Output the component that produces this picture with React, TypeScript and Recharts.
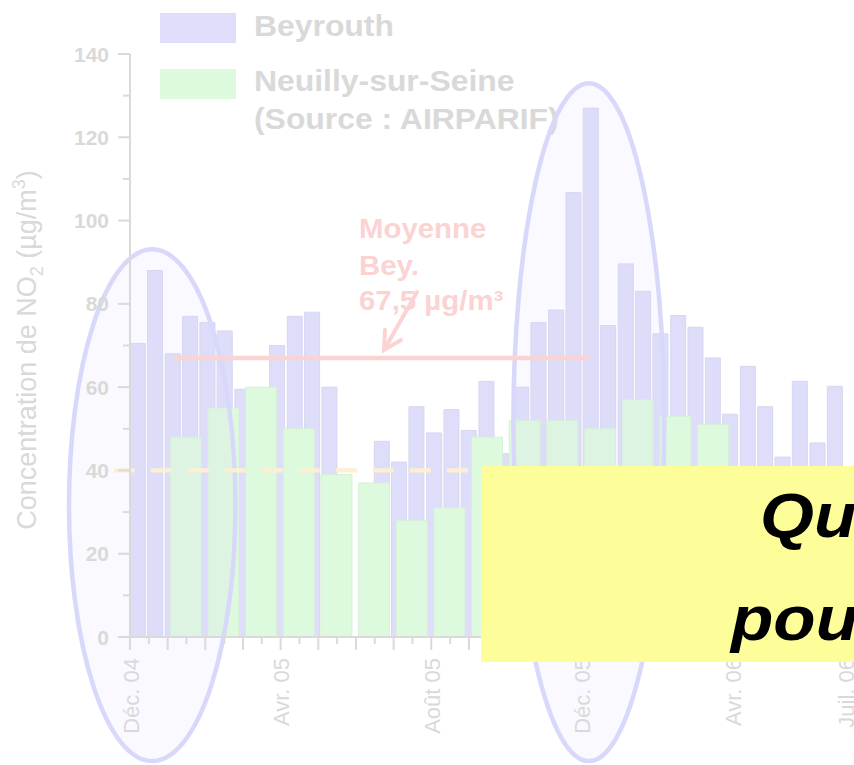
import React from 'react';
import { ComposedChart, Bar, XAxis, YAxis, ReferenceLine, ReferenceArea } from 'recharts';

// ---------- data ----------
// x position of each Beyrouth (bi-weekly) sample, in months since 1 Dec 2004
const beyrouthPos = [
  0.21, 0.67, 1.14, 1.6, 2.06, 2.52, 2.99, 3.45, 3.91, 4.38, 4.84, 5.3, 5.76, 6.23,
  6.69, 7.15, 7.61, 8.08, 8.54, 9.0, 9.47, 9.93, 10.39, 10.85, 11.32, 11.78, 12.24,
  12.7, 13.17, 13.63, 14.09, 14.56, 15.02, 15.48, 15.94, 16.41, 16.87, 17.33, 17.79,
  18.26, 18.72,
];
// NO2 concentration in Beyrouth (µg/m3)
const beyrouthNO2: (number | null)[] = [
  70.5, 88, 68, 77, 75.5, 73.5, 59.5, null, 70, 77, 78, 60, null, null,
  47, 42, 55.3, 49, 54.6, 49.6, 61.4, 44, 60, 75.5, 78.5, 106.7, 127,
  74.8, 89.6, 83, 72.8, 77.2, 74.4, 67, 53.5, 65, 55.3, 43.2, 61.4,
  46.6, 60.2,
];
// Neuilly-sur-Seine monthly means (Jan 05 .. Mar 06), month centres
const neuillyMonths = [
  'Janv. 05', 'Févr. 05', 'Mars 05', 'Avr. 05', 'Mai 05', 'Juin 05', 'Juil. 05', 'Août 05',
  'Sept. 05', 'Oct. 05', 'Nov. 05', 'Déc. 05', 'Janv. 06', 'Févr. 06', 'Mars 06',
];
const neuillyPos = [1.49, 2.49, 3.49, 4.49, 5.49, 6.49, 7.49, 8.49, 9.49, 10.49, 11.49, 12.49, 13.49, 14.49, 15.49];
const neuillyNO2 = [48, 55, 60, 50, 39, 37, 28, 31, 48, 52, 52, 50, 57, 53, 51];

const yTicks = [0, 10, 20, 30, 40, 50, 60, 70, 80, 90, 100, 110, 120, 130, 140];
const xTicks = [
  0, 0.5, 1, 1.5, 2, 2.5, 3, 3.5, 4, 4.5, 5, 5.5, 6, 6.5, 7, 7.5, 8, 8.5, 9, 9.5,
  10, 10.5, 11, 11.5, 12, 12.5, 13, 13.5, 14, 14.5, 15, 15.5, 16, 16.5, 17, 17.5,
  18, 18.5, 19,
];
const xTickLabels: Record<string, string> = {
  '0': 'Déc. 04', '4': 'Avr. 05', '8': 'Août 05', '12': 'Déc. 05', '16': 'Avr. 06', '19': 'Juil. 06',
};
const beyrouthMean = 67;
const meanSpan = [1.17, 12.19];
const limitValue = 40;
const limitSpan = [-0.43, 19.2];

// ---------- layout / style ----------
const W = 854;
const H = 765;
const MARGIN = { top: 54, right: 0, bottom: 98, left: 70 };
const X_DOMAIN: [number, number] = [0, 19.225];
const Y_DOMAIN: [number, number] = [0, 140];
const FONT = "'Liberation Sans', Arial, Helvetica, sans-serif";
const BLUE = '#DEDEFA';
const BLUE_EDGE = '#D6D6F0';
const GREEN = '#DEFADE';
const GREEN_EDGE = '#D6F0D6';
const PINK = '#FBD3D3';
const CREAM = '#FCEFD2';
const GRAY = '#D9D9D9';
const AXIS = '#DADADA';
const ELLIPSE = '#D8D8FA';
const YELLOW = '#FDFD99';

// annotation ellipses in data units
const ellipses = [
  { x1: -1.62, x2: 2.8, y1: -29.8, y2: 93.1 },
  { x1: 10.18, x2: 14.19, y1: -29.8, y2: 133.0 },
];

const XTick = (props: any) => {
  const { x, y, payload } = props;
  const v = payload.value as number;
  const major = Math.abs(v - Math.round(v)) < 1e-6;
  const label = xTickLabels[String(v)];
  return (
    <g>
      <line x1={x} x2={x} y1={y} y2={y + (major ? 13 : 7)} stroke={AXIS} strokeWidth={2} />
      {label && (
        <text
          transform={`translate(${x + 8.5},${y + 21}) rotate(-90)`}
          textAnchor="end"
          fontSize={22}
          fontFamily={FONT}
          fill={GRAY}
        >
          {label}
        </text>
      )}
    </g>
  );
};

const YTick = (props: any) => {
  const { x, y, payload } = props;
  const v = payload.value as number;
  const major = v % 20 === 0;
  return (
    <g>
      <line x1={x - (major ? 12 : 7)} x2={x} y1={y} y2={y} stroke={AXIS} strokeWidth={2} />
      {major && (
        <text x={x - 21} y={y} dy="0.36em" textAnchor="end" fontSize={21} fontWeight="bold" fontFamily={FONT} fill={GRAY}>
          {v}
        </text>
      )}
    </g>
  );
};

const EllipseShape = (props: any) => {
  const { x, y, width, height } = props;
  return (
    <ellipse
      cx={x + width / 2}
      cy={y + height / 2}
      rx={Math.abs(width) / 2}
      ry={Math.abs(height) / 2}
      fill="#DCDCFF"
      fillOpacity={0.16}
      stroke={ELLIPSE}
      strokeWidth={4.5}
    />
  );
};

const hiddenAxes = (withTicks: boolean) => [
  <XAxis
    key="x"
    xAxisId={0}
    type="number"
    dataKey="x"
    domain={X_DOMAIN}
    allowDataOverflow
    height={30}
    tickSize={0}
    tickMargin={0}
    tickLine={false}
    axisLine={withTicks ? { stroke: AXIS, strokeWidth: 2 } : false}
    ticks={withTicks ? xTicks : undefined}
    interval={0}
    tick={withTicks ? <XTick /> : false}
  />,
  <YAxis
    key="y"
    yAxisId={0}
    type="number"
    domain={Y_DOMAIN}
    allowDataOverflow
    width={60}
    tickSize={0}
    tickMargin={0}
    tickLine={false}
    axisLine={withTicks ? { stroke: AXIS, strokeWidth: 2 } : false}
    ticks={withTicks ? yTicks : undefined}
    interval={0}
    tick={withTicks ? <YTick /> : false}
  />,
];

const layer: React.CSSProperties = { position: 'absolute', left: 0, top: 0 };

export default function App() {
  const bRows = beyrouthPos.map((x, i) => ({ x, v: beyrouthNO2[i] }));
  const nRows = neuillyPos.map((x, i) => ({ x, month: neuillyMonths[i], v: neuillyNO2[i] }));

  return (
    <div
      style={{
        position: 'absolute',
        left: 0,
        top: 0,
        width: W,
        height: H,
        overflow: 'hidden',
        background: '#ffffff',
        fontFamily: FONT,
      }}
    >
      {/* Beyrouth bars */}
      <div style={layer}>
        <ComposedChart width={W} height={H} data={bRows} margin={MARGIN}>
          {hiddenAxes(false)}
          <Bar dataKey="v" fill={BLUE} stroke={BLUE_EDGE} strokeWidth={1} barSize={15} isAnimationActive={false} />
        </ComposedChart>
      </div>

      {/* Neuilly bars */}
      <div style={layer}>
        <ComposedChart width={W} height={H} data={nRows} margin={MARGIN}>
          {hiddenAxes(false)}
          <Bar dataKey="v" fill={GREEN} stroke={GREEN_EDGE} strokeWidth={1} barSize={31} isAnimationActive={false} />
        </ComposedChart>
      </div>

      {/* legend and axis title */}
      <svg width={W} height={H} style={layer}>
        <rect x={160} y={13} width={76} height={30} fill={BLUE} />
        <rect x={160} y={69} width={76} height={30} fill={GREEN} />
        <g fontFamily={FONT} fontWeight="bold" fontSize={29} fill={GRAY}>
          <text transform="translate(254,36) scale(1.1,1)">Beyrouth</text>
          <text transform="translate(254,91) scale(1.1,1)">Neuilly-sur-Seine</text>
          <text transform="translate(254,129) scale(1.1,1)">(Source : AIRPARIF)</text>
        </g>
        <text transform="translate(36,350) rotate(-90)" textAnchor="middle" fontFamily={FONT} fontSize={27} fill={GRAY}>
          Concentration de NO
          <tspan dy={7} fontSize={18}>2</tspan>
          <tspan dy={-7}> (µg/m</tspan>
          <tspan dy={-11} fontSize={18}>3</tspan>
          <tspan dy={11}>)</tspan>
        </text>
      </svg>

      {/* axes, reference lines, ellipses */}
      <div style={layer}>
        <ComposedChart width={W} height={H} data={nRows} margin={MARGIN}>
          {hiddenAxes(true)}
          <ReferenceLine
            segment={[{ x: limitSpan[0], y: limitValue }, { x: limitSpan[1], y: limitValue }]}
            stroke={CREAM}
            strokeWidth={4.3}
            strokeDasharray="21 16"
            ifOverflow="visible"
          />
          <ReferenceLine
            segment={[{ x: meanSpan[0], y: beyrouthMean }, { x: meanSpan[1], y: beyrouthMean }]}
            stroke={PINK}
            strokeWidth={4.5}
            ifOverflow="visible"
          />
          {ellipses.map((e, i) => (
            <ReferenceArea
              key={i}
              x1={e.x1}
              x2={e.x2}
              y1={e.y1}
              y2={e.y2}
              ifOverflow="visible"
              shape={<EllipseShape />}
            />
          ))}
        </ComposedChart>
      </div>

      {/* annotations */}
      <svg width={W} height={H} style={layer}>
        <g fontFamily={FONT} fontWeight="bold" fontSize={28} fill={PINK}>
          <text transform="translate(359,238) scale(1.05,1)">Moyenne</text>
          <text transform="translate(359,275) scale(1.05,1)">Bey.</text>
          <text transform="translate(359,310) scale(1.05,1)">67,5 µg/m³</text>
        </g>
        <g stroke={PINK} strokeWidth={4} fill="none" strokeLinecap="round">
          <line x1={417} y1={292} x2={384} y2={350} />
          <polyline points="385,330 384,350 401,340" />
        </g>
        <rect x={481} y={466} width={420} height={196} fill={YELLOW} />
        <g fontFamily={FONT} fontWeight="bold" fontStyle="italic" fontSize={63} fill="#000000">
          <text transform="translate(760,537) scale(1.1,1)">Quel</text>
          <text transform="translate(731,640) scale(1.1,1)">pour</text>
        </g>
      </svg>
    </div>
  );
}
